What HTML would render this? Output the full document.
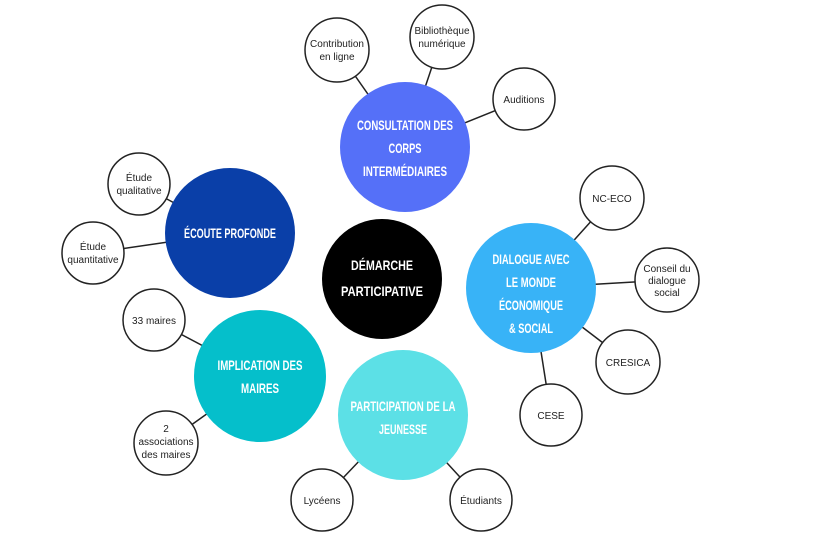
<!DOCTYPE html>
<html><head><meta charset="utf-8"><style>
html,body{margin:0;padding:0;background:#fff;}
svg{display:block;}
.s{font-family:"Liberation Sans",sans-serif;font-size:10px;fill:#222;text-anchor:middle;}
.b{font-family:"Liberation Sans",sans-serif;font-weight:bold;font-size:14px;fill:#fff;text-anchor:middle;}
</style></head><body>
<svg width="835" height="541" viewBox="0 0 835 541" xmlns="http://www.w3.org/2000/svg">
<g stroke="#222" stroke-width="1.5">
<line x1="405" y1="147" x2="337" y2="50"/>
<line x1="405" y1="147" x2="442" y2="37"/>
<line x1="405" y1="147" x2="524" y2="99"/>
<line x1="230" y1="233" x2="139" y2="184"/>
<line x1="230" y1="233" x2="93" y2="253"/>
<line x1="531" y1="288" x2="612" y2="198"/>
<line x1="531" y1="288" x2="667" y2="280"/>
<line x1="531" y1="288" x2="628" y2="362"/>
<line x1="531" y1="288" x2="551" y2="415"/>
<line x1="260" y1="376" x2="154" y2="320"/>
<line x1="260" y1="376" x2="166" y2="443"/>
<line x1="403" y1="415" x2="322" y2="500"/>
<line x1="403" y1="415" x2="481" y2="500"/>
</g>
<g fill="#fff" stroke="#222" stroke-width="1.5">
<circle cx="337" cy="50" r="32"/><circle cx="442" cy="37" r="32"/><circle cx="524" cy="99" r="31"/>
<circle cx="139" cy="184" r="31"/><circle cx="93" cy="253" r="31"/>
<circle cx="612" cy="198" r="32"/><circle cx="667" cy="280" r="32"/><circle cx="628" cy="362" r="32"/><circle cx="551" cy="415" r="31"/>
<circle cx="154" cy="320" r="31"/><circle cx="166" cy="443" r="32"/>
<circle cx="322" cy="500" r="31"/><circle cx="481" cy="500" r="31"/>
</g>
<circle cx="405" cy="147" r="65" fill="#5570f8"/>
<circle cx="230" cy="233" r="65" fill="#0a3fa8"/>
<circle cx="382" cy="279" r="60" fill="#000"/>
<circle cx="531" cy="288" r="65" fill="#38b3f7"/>
<circle cx="260" cy="376" r="66" fill="#05bfcb"/>
<circle cx="403" cy="415" r="65" fill="#5ce0e6"/>
<g lengthAdjust="spacingAndGlyphs">
<text class="b" x="405" y="130" textLength="96" lengthAdjust="spacingAndGlyphs">CONSULTATION DES</text>
<text class="b" x="405" y="153" textLength="33" lengthAdjust="spacingAndGlyphs">CORPS</text>
<text class="b" x="405" y="176" textLength="84" lengthAdjust="spacingAndGlyphs">INTERMÉDIAIRES</text>
<text class="b" x="230" y="238" textLength="92" lengthAdjust="spacingAndGlyphs">ÉCOUTE PROFONDE</text>
<text class="b" x="382" y="270" textLength="62" lengthAdjust="spacingAndGlyphs">DÉMARCHE</text>
<text class="b" x="382" y="296" textLength="82" lengthAdjust="spacingAndGlyphs">PARTICIPATIVE</text>
<text class="b" x="531" y="264" textLength="77" lengthAdjust="spacingAndGlyphs">DIALOGUE AVEC</text>
<text class="b" x="531" y="287" textLength="50" lengthAdjust="spacingAndGlyphs">LE MONDE</text>
<text class="b" x="531" y="310" textLength="64" lengthAdjust="spacingAndGlyphs">ÉCONOMIQUE</text>
<text class="b" x="531" y="333" textLength="44" lengthAdjust="spacingAndGlyphs">&amp; SOCIAL</text>
<text class="b" x="260" y="370" textLength="85" lengthAdjust="spacingAndGlyphs">IMPLICATION DES</text>
<text class="b" x="260" y="393" textLength="38" lengthAdjust="spacingAndGlyphs">MAIRES</text>
<text class="b" x="403" y="411" textLength="105" lengthAdjust="spacingAndGlyphs">PARTICIPATION DE LA</text>
<text class="b" x="403" y="434" textLength="48" lengthAdjust="spacingAndGlyphs">JEUNESSE</text>
</g>
<text class="s" x="337" y="47">Contribution</text><text class="s" x="337" y="60">en ligne</text>
<text class="s" x="442" y="34">Bibliothèque</text><text class="s" x="442" y="47">numérique</text>
<text class="s" x="524" y="103">Auditions</text>
<text class="s" x="139" y="181">Étude</text><text class="s" x="139" y="194">qualitative</text>
<text class="s" x="93" y="250">Étude</text><text class="s" x="93" y="263">quantitative</text>
<text class="s" x="612" y="202">NC-ECO</text>
<text class="s" x="667" y="272">Conseil du</text><text class="s" x="667" y="284">dialogue</text><text class="s" x="667" y="296">social</text>
<text class="s" x="628" y="366">CRESICA</text>
<text class="s" x="551" y="419">CESE</text>
<text class="s" x="154" y="324">33 maires</text>
<text class="s" x="166" y="432">2</text><text class="s" x="166" y="445">associations</text><text class="s" x="166" y="458">des maires</text>
<text class="s" x="322" y="504">Lycéens</text>
<text class="s" x="481" y="504">Étudiants</text>
</svg>
</body></html>
